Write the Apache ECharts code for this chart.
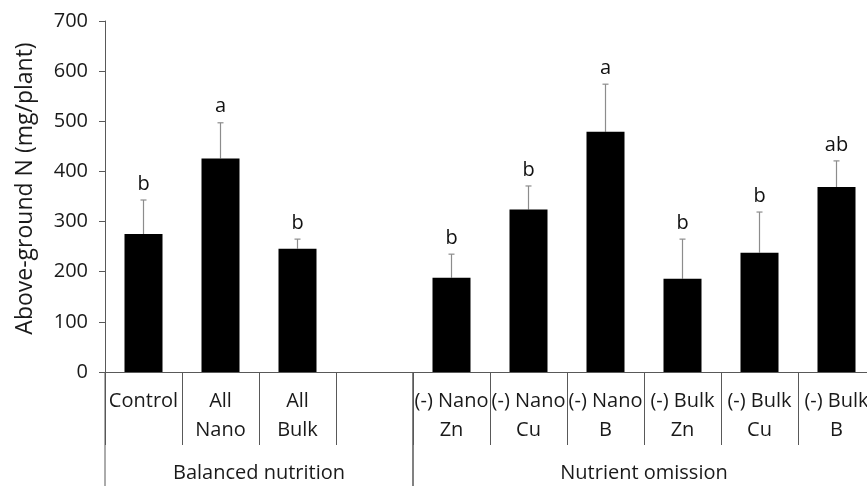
<!DOCTYPE html>
<html>
<head>
<meta charset="utf-8">
<script src="https://cdn.jsdelivr.net/npm/echarts@6/dist/echarts.min.js"></script>
<style>
html,body{margin:0;padding:0;background:#fff;overflow:hidden;width:867px;height:486px;}
#chart{width:875px;height:486px;}
</style>
</head>
<body>
<div id="chart"></div>
<script>
// ---- data ----
var categories = ['Control', 'All\nNano', 'All\nBulk', '', '(-) Nano\nZn', '(-) Nano\nCu', '(-) Nano\nB', '(-) Bulk\nZn', '(-) Bulk\nCu', '(-) Bulk\nB'];
var values = [275, 426, 246, null, 188, 324, 479, 186, 238, 369];
var errors = [68, 71, 19, null, 47, 47, 95, 79, 81, 52];
var letters = ['b', 'a', 'b', '', 'b', 'b', 'a', 'b', 'b', 'ab'];
var groupNames = ['Balanced nutrition', 'Nutrient omission'];
var groupStart = [0, 4];
var groupEnd = [3, 9];
var yTicks = [0, 100, 200, 300, 400, 500, 600, 700];
var yTitle = 'Above-ground N (mg/plant)';

var FONT = 'Open Sans';
var AXIS = '#595959';

var errData = [];
for (var i = 0; i < values.length; i++) {
  if (values[i] != null) errData.push([i, values[i], errors[i], letters[i]]);
}
var groupData = [];
for (var g = 0; g < groupNames.length; g++) groupData.push([groupStart[g], groupEnd[g], groupNames[g]]);

var chart = echarts.init(document.getElementById('chart'), null, {renderer: 'canvas'});
chart.setOption({
  animation: false,
  backgroundColor: '#fff',
  grid: {left: 105, right: 0, top: 21, bottom: 114, containLabel: false},
  xAxis: {
    type: 'category',
    data: categories,
    boundaryGap: true,
    axisLine: {lineStyle: {color: AXIS, width: 1}},
    axisTick: {show: true, interval: 0, alignWithLabel: false, length: 73, lineStyle: {color: AXIS, width: 1}},
    axisLabel: {interval: 0, margin: 15, color: '#1a1a1a', fontFamily: FONT, fontSize: 20, lineHeight: 29, align: 'center'},
    splitLine: {show: false}
  },
  yAxis: {
    type: 'value',
    min: yTicks[0], max: yTicks[yTicks.length - 1], interval: 100,
    name: yTitle,
    nameLocation: 'middle',
    nameGap: 68,
    nameTextStyle: {fontFamily: FONT, fontSize: 23, color: '#1a1a1a', padding: [0, 0, 0, 16]},
    axisLine: {show: true, lineStyle: {color: AXIS, width: 1}},
    axisTick: {show: true, length: 6, lineStyle: {color: AXIS}},
    axisLabel: {margin: 17, color: '#1a1a1a', fontFamily: FONT, fontSize: 20},
    splitLine: {show: false}
  },
  series: [
    {
      type: 'bar',
      data: values,
      barWidth: 38,
      itemStyle: {color: '#000'},
      silent: true
    },
    {
      type: 'custom',
      clip: false,
      silent: true,
      data: errData,
      renderItem: function (params, api) {
        var x = api.value(0), v = api.value(1), e = api.value(2);
        var p0 = api.coord([x, v]);
        var p1 = api.coord([x, v + e]);
        var lab = errData[params.dataIndex][3];
        return {
          type: 'group',
          children: [
            {type: 'line', shape: {x1: p0[0], y1: p0[1], x2: p1[0], y2: p1[1]}, style: {stroke: '#8c8c8c', lineWidth: 1.2}},
            {type: 'line', shape: {x1: p1[0] - 3, y1: p1[1], x2: p1[0] + 3, y2: p1[1]}, style: {stroke: '#8c8c8c', lineWidth: 1.2}},
            {type: 'text', x: p1[0], y: p1[1] - 6, style: {text: lab, fill: '#111', font: '20px "' + FONT + '"', textAlign: 'center', textVerticalAlign: 'bottom'}}
          ]
        };
      }
    },
    {
      type: 'custom',
      clip: false,
      silent: true,
      data: groupData,
      renderItem: function (params, api) {
        var s = api.value(0), e = api.value(1);
        var bw = api.size([1, 0])[0];
        var ps = api.coord([s, 0]);
        var pe = api.coord([e, 0]);
        var left = ps[0] - bw / 2, right = pe[0] + bw / 2;
        var y0 = ps[1];
        var name = groupData[params.dataIndex][2];
        return {
          type: 'group',
          children: [
            {type: 'line', shape: {x1: left, y1: y0, x2: left, y2: y0 + 130}, style: {stroke: AXIS, lineWidth: 1}},
            {type: 'line', shape: {x1: right, y1: y0, x2: right, y2: y0 + 130}, style: {stroke: AXIS, lineWidth: 1}},
            {type: 'text', x: (left + right) / 2, y: y0 + 101, style: {text: name, fill: '#1a1a1a', font: '20px "' + FONT + '"', textAlign: 'center', textVerticalAlign: 'middle'}}
          ]
        };
      }
    }
  ]
});
</script>
</body>
</html>
